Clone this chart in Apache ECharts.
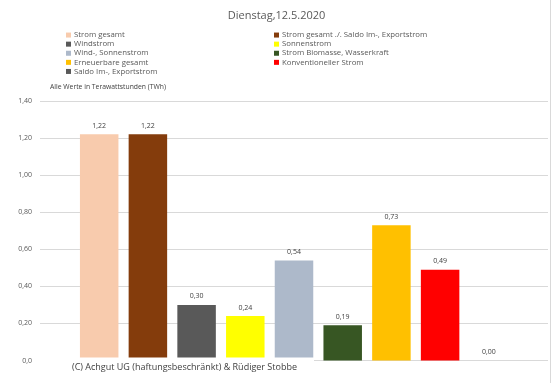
<!DOCTYPE html>
<html><head><meta charset="utf-8">
<script src="https://cdn.jsdelivr.net/npm/echarts@6/dist/echarts.min.js"></script>
<style>html,body{margin:0;padding:0;background:#fff}#c{width:553px;height:383px}</style>
</head><body><div id="c"></div>
<script>
const title = 'Dienstag,12.5.2020';
const subtitle = 'Alle Werte in Terawattstunden (TWh)';
const footer = '(C) Achgut UG (haftungsbeschränkt) & Rüdiger Stobbe';
const seriesNames = [
  'Strom gesamt',
  'Strom gesamt ./. Saldo Im-, Exportstrom',
  'Windstrom',
  'Sonnenstrom',
  'Wind-, Sonnenstrom',
  'Strom Biomasse, Wasserkraft',
  'Erneuerbare gesamt',
  'Konventioneller Strom',
  'Saldo Im-, Exportstrom'
];
const values = [1.22, 1.22, 0.30, 0.24, 0.54, 0.19, 0.73, 0.49, 0.00];
const colors = ['#F8CBAD', '#843C0C', '#595959', '#FFFF00', '#ADB9CA', '#375623', '#FFC000', '#FF0000', '#595959'];
const yTicks = { min: 0, max: 1.4, interval: 0.2 };

const fmt = v => v.toFixed(2).replace('.', ',');
const FONT = 'Open Sans';
const chart = echarts.init(document.getElementById('c'));
const leftNames = seriesNames.filter((_, i) => i % 2 === 0);
const rightNames = seriesNames.filter((_, i) => i % 2 === 1);
const legendCommon = {
  orient: 'vertical', icon: 'rect', itemWidth: 5, itemHeight: 5, itemGap: 0,
  selectedMode: false, padding: 0,
  textStyle: { fontFamily: FONT, fontSize: 7.8, color: '#595959', lineHeight: 9.1, padding: [0, 0, 0, -2] }
};
chart.setOption({
  animation: false,
  textStyle: { fontFamily: FONT },
  title: {
    text: title, left: 'center', top: 5,
    textStyle: { fontFamily: FONT, fontSize: 11, fontWeight: 'normal', color: '#595959' }
  },
  legend: [
    Object.assign({ data: leftNames, left: 66, top: 30.5 }, legendCommon),
    Object.assign({ data: rightNames, left: 274, top: 30.5 }, legendCommon)
  ],
  grid: { left: 40, right: 5, top: 101, bottom: 22.5 },
  xAxis: {
    type: 'category', data: [''],
    axisLine: { show: false }, axisTick: { show: false }, axisLabel: { show: false }
  },
  yAxis: {
    type: 'value', min: yTicks.min, max: yTicks.max, interval: yTicks.interval,
    axisLine: { show: false }, axisTick: { show: false },
    splitLine: { lineStyle: { color: '#D9D9D9', width: 1 } },
    axisLabel: {
      fontFamily: FONT, fontSize: 7, color: '#595959', margin: 8,
      formatter: v => v === 0 ? '0,0' : fmt(v)
    }
  },
  graphic: [
    { type: 'rect', z: 100, shape: { x: 35, y: 357.5, width: 279, height: 26 }, style: { fill: '#fff' } },
    { type: 'text', z: 101, left: 72, top: 362.5, style: { text: footer, fontFamily: FONT, fontSize: 9, fill: '#404040' } },
    { type: 'text', z: 101, left: 50, top: 84, style: { text: subtitle, fontFamily: FONT, fontSize: 6.8, fill: '#404040' } },
    { type: 'line', z: 101, shape: { x1: 550.5, y1: 0, x2: 550.5, y2: 383 }, style: { stroke: '#D9D9D9', lineWidth: 1 } }
  ],
  series: seriesNames.map((name, i) => ({
    type: 'bar', name: name, data: [values[i]],
    barWidth: 38.5, barGap: '26.5%',
    itemStyle: { color: colors[i] },
    label: {
      show: true, position: 'top', distance: 5,
      fontFamily: FONT, fontSize: 7, color: '#404040',
      formatter: p => fmt(p.value)
    }
  }))
});
</script></body></html>
